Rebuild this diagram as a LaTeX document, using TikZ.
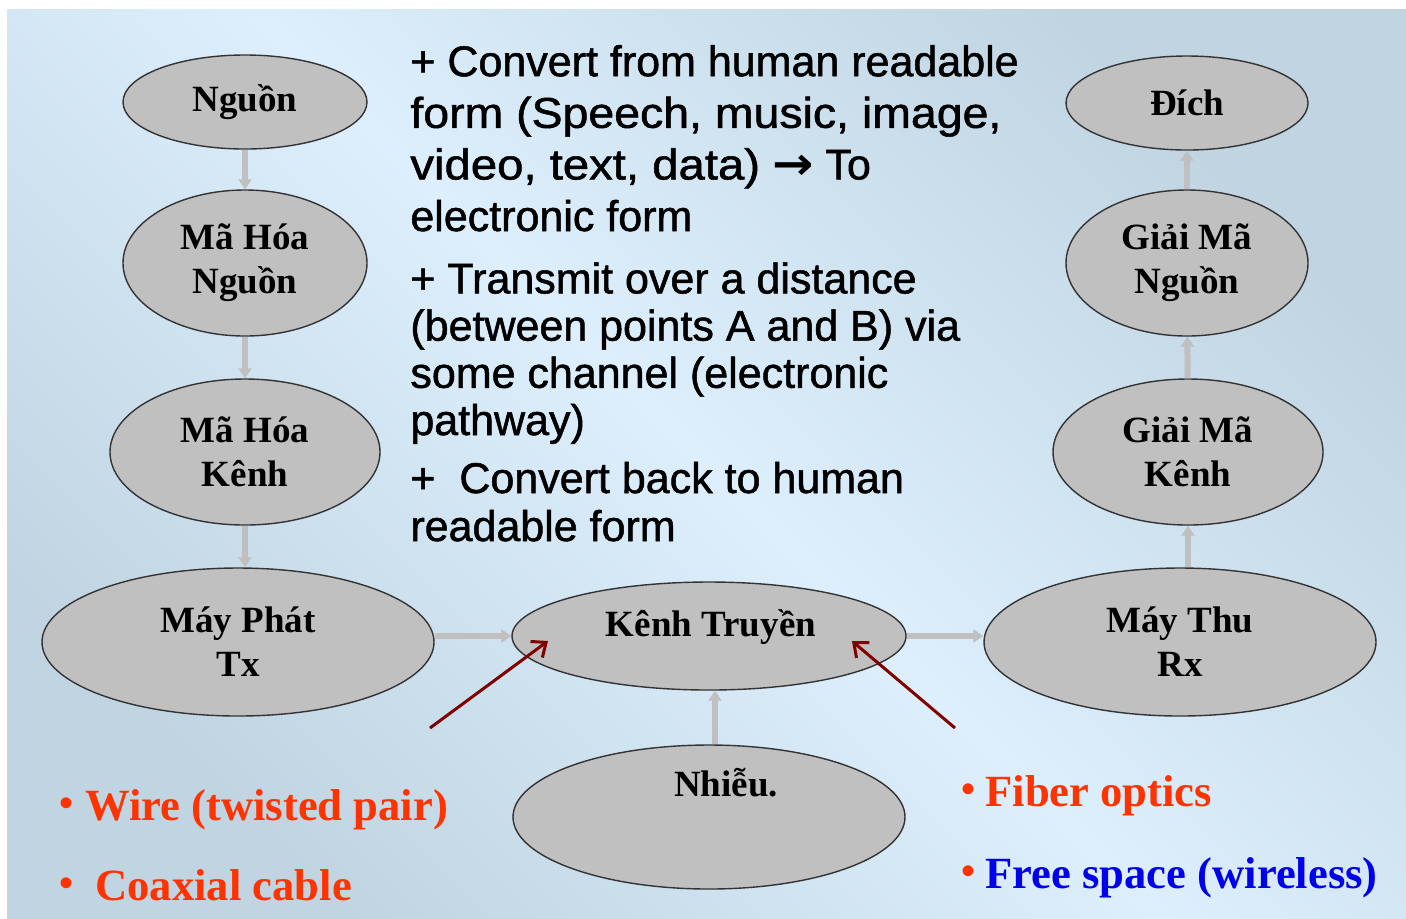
\documentclass[tikz,border=0pt]{standalone}
\usepackage{fontspec}
\setmainfont{Liberation Serif}
\newfontfamily\arialfont[FakeBold=1.2]{Liberation Sans}
\newfontfamily\djvfont{DejaVu Sans}
\usetikzlibrary{arrows.meta,shapes.geometric}
\definecolor{bglight}{RGB}{221,239,253}
\definecolor{bgdark}{RGB}{192,212,225}
\definecolor{ellfill}{RGB}{192,192,192}
\definecolor{conn}{RGB}{192,192,192}
\definecolor{darkred}{RGB}{128,0,0}
\definecolor{txtred}{RGB}{255,51,0}
\definecolor{txtblue}{RGB}{0,0,235}
\newcommand{\smallbul}{\raisebox{1.6pt}{\fontsize{20}{20}\selectfont •}}
\begin{document}
\begin{tikzpicture}[x=0.5pt,y=-0.5pt,
  ell/.style={ellipse,draw=black!80,line width=0.7pt,fill=ellfill,inner sep=0pt,align=center,
    font=\fontsize{18.5}{22}\selectfont\bfseries},
  lbl/.style={inner sep=0pt,align=center,font=\fontsize{18.5}{22}\selectfont\bfseries},
  garrow/.style={draw=conn,line width=3pt,-{Triangle[width=6.5pt,length=5pt]}},
  rarrow/.style={draw=darkred,line width=1.5pt,-{Straight Barb[width=10pt,length=6pt]}},
  body/.style={anchor=base west,inner sep=0pt,align=left},
  bul/.style={anchor=base west,inner sep=0pt,font=\fontsize{22.3}{27}\selectfont\bfseries}]
\useasboundingbox (0,0) rectangle (1406,918);
\fill[white] (0,0) rectangle (1406,918);
\shade[top color=bgdark,bottom color=bgdark,middle color=bglight,shading angle=-45] (7,9) rectangle (1406,918);

% ellipses
\node[ell,minimum width=122pt,minimum height=47pt] (n1) at (245,102) {Nguồn};
\node[ell,minimum width=122pt,minimum height=73pt] (n2) at (245,263) {Mã Hóa\\Nguồn};
\node[ell,minimum width=135pt,minimum height=73pt] (n3) at (245,452) {Mã Hóa\\Kênh};
\node[ell,minimum width=196pt,minimum height=74pt] (n4) at (238,642) {Máy Phát\\Tx};
\node[ell,minimum width=197pt,minimum height=54pt] (n5) at (709,636) {};
\node[lbl] (t5) at (711,627) {Kênh Truyền};
\node[ell,minimum width=196pt,minimum height=72pt] (n6) at (709,817) {};
\node[lbl] (t6) at (726,783) {Nhiễu.};
\node[ell,minimum width=196pt,minimum height=74pt] (n7) at (1180,642) {Máy Thu\\Rx};
\node[ell,minimum width=135pt,minimum height=73pt] (n8) at (1188,452) {Giải Mã\\Kênh};
\node[ell,minimum width=121pt,minimum height=73pt] (n9) at (1187,263) {Giải Mã\\Nguồn};
\node[ell,minimum width=121pt,minimum height=47pt] (n10) at (1187,103) {Đích};

% gray connectors
\draw[garrow] (n1) -- (n2);
\draw[garrow] (n2) -- (n3);
\draw[garrow] (n3.south) -- (n3.south |- n4.north);
\draw[garrow] (n4.east |- n5) -- (n5.west);
\draw[garrow] (n5.east) -- (n5 -| n7.west);
\draw[garrow] (n6.north -| 715,0) -- (n5.south -| 715,0);
\draw[garrow] (n7.north -| n8) -- (n8.south);
\draw[garrow] (n8) -- (n9);
\draw[garrow] (n9) -- (n10);

% body text (anchor = baseline of last line)
\node[body,font=\arialfont\fontsize{21.5}{25.8}\selectfont] (p1) at (410,231)
  {+ Convert from human readable\\\scalebox{1.08}[1]{form (Speech, music, image,}\\\scalebox{1.1}[1]{video, text, data)} \scalebox{1.15}[1.05]{\djvfont\bfseries →} To\\electronic form};
\node[body,font=\arialfont\fontsize{21.5}{23.6}\selectfont] (p2) at (410,435)
  {+ Transmit over a distance\\(between points A and B) via\\some channel (electronic\\pathway)};
\node[body,font=\arialfont\fontsize{21.5}{24}\selectfont] (p3) at (410,541)
  {+\ \ Convert back to human\\readable form};

% dark red arrows
\coordinate (wa) at (430,728);
\coordinate (wb) at (548,641);
\coordinate (fa) at (955,728);
\coordinate (fb) at (852,641);
\draw[rarrow] (wa) -- (wb);
\draw[rarrow] (fa) -- (fb);

% bullet lists
\node[bul,text=txtred] (b1) at (59,820) {\smallbul\hspace{6pt}Wire (twisted pair)};
\node[bul,text=txtred] (b2) at (59,900) {\smallbul\hspace{11pt}Coaxial cable};
\node[bul,text=txtred] (b3) at (961,806) {\smallbul\hspace{5pt}Fiber optics};
\node[bul] (b4) at (961,888) {\textcolor{txtred}{\smallbul}\hspace{5pt}\textcolor{txtblue}{Free space (wireless)}};
\end{tikzpicture}
\end{document}
